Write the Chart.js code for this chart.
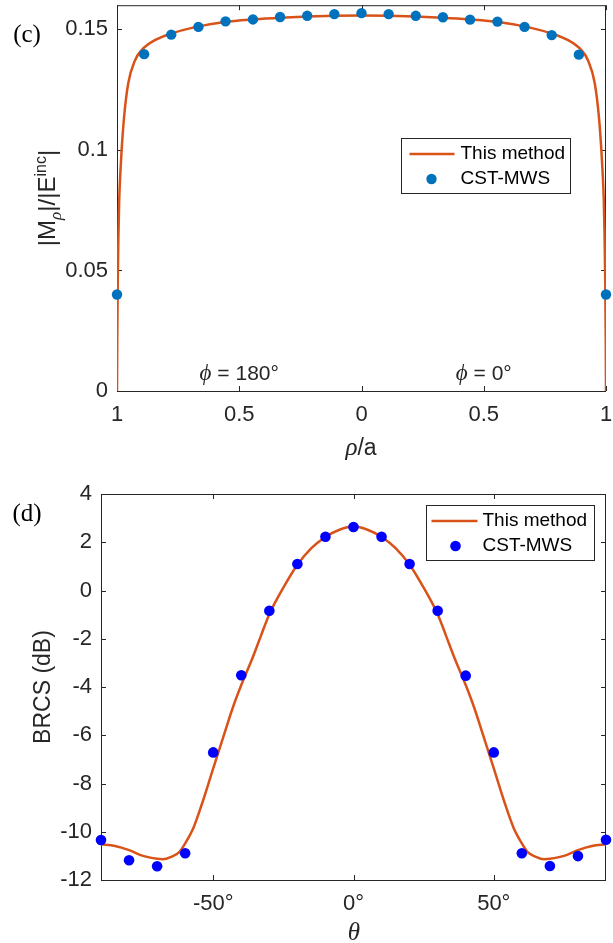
<!DOCTYPE html>
<html>
<head>
<meta charset="utf-8">
<script src="https://cdn.jsdelivr.net/npm/chart.js@4.4.0/dist/chart.umd.min.js"></script>
<style>
  body { margin: 0; background: #fff; width: 613px; height: 943px; position: relative; overflow: hidden;
         font-family: "Liberation Sans", Arial, sans-serif; color: #262626; }
  canvas { position: absolute; left: 0; }
  #chartC { top: 0; }
  #chartD { top: 470px; }
  .lbl { position: absolute; white-space: nowrap; transform: translate(-50%, -50%); font-size: 23px; line-height: 1; }
  .rot { transform: translate(-50%, -50%) rotate(-90deg); }
  .panel { font-family: "Liberation Serif", "Times New Roman", serif; font-size: 25px; color: #000; }
  .sym { font-family: "Liberation Serif", "Times New Roman", serif; font-style: italic; font-size: 25px; }
  sub, sup { font-size: 16px; line-height: 0; }
</style>
</head>
<body>
<canvas id="chartC" width="613" height="470"></canvas>
<canvas id="chartD" width="613" height="473"></canvas>

<div class="lbl panel" style="left:27px; top:33px;">(c)</div>
<div class="lbl rot" style="left:47px; top:198px; font-size:24px;">|M<sub class="sym" style="font-size:17px;">ρ</sub>|/|E<sup>inc</sup>|</div>
<div class="lbl" style="left:361px; top:446px;"><span class="sym">ρ</span>/a</div>

<div class="lbl panel" style="left:27px; top:512px;">(d)</div>
<div class="lbl rot" style="left:42px; top:687px;">BRCS (dB)</div>
<div class="lbl" style="left:354px; top:931px;"><span class="sym">θ</span></div>

<script>
// (c) |M_rho|/|E_inc| across the aperture: phi = 180° side on the left, phi = 0° side on the right
const rhoLine = [-1, -0.999, -0.997, -0.994, -0.991, -0.986, -0.981, -0.971, -0.954, -0.926, -0.899,
                 -0.845, -0.776, -0.689, -0.56, -0.44, -0.33, -0.22, -0.11, 0,
                 0.11, 0.22, 0.33, 0.44, 0.56, 0.689, 0.776, 0.845, 0.899, 0.926,
                 0.954, 0.971, 0.981, 0.986, 0.991, 0.994, 0.997, 0.999, 1];
const mLine = [0, 0.02, 0.045, 0.065, 0.079, 0.091, 0.1, 0.1137, 0.1276, 0.1372, 0.1414,
               0.1455, 0.1483, 0.1507, 0.153, 0.1541, 0.1548, 0.1553, 0.1556, 0.1557,
               0.1556, 0.1553, 0.1548, 0.1541, 0.153, 0.1507, 0.1483, 0.1455, 0.1414, 0.1372,
               0.1276, 0.1137, 0.1, 0.091, 0.079, 0.065, 0.045, 0.02, 0];
const rhoCst = [-1, -0.889, -0.778, -0.667, -0.556, -0.444, -0.333, -0.222, -0.111, 0,
                0.111, 0.222, 0.333, 0.444, 0.556, 0.667, 0.778, 0.889, 1];
const mCst = [0.04, 0.1397, 0.1478, 0.151, 0.1533, 0.1541, 0.1551, 0.1556, 0.1563, 0.1567,
              0.1563, 0.1556, 0.155, 0.154, 0.1532, 0.151, 0.1476, 0.1395, 0.04];
const rhoTicks = [-1, -0.5, 0, 0.5, 1];
const rhoTickLabels = ['1', '0.5', '0', '0.5', '1'];
const mTicks = [0, 0.05, 0.1, 0.15];
const mTickLabels = ['0', '0.05', '0.1', '0.15'];

// (d) bistatic RCS versus theta
const thetaLine = [-90, -85, -80, -75, -70, -68, -65, -62, -60, -57, -54, -50, -46, -43, -40, -36, -33, -30,
                   -25, -20, -15, -10, -5, 0, 5, 10, 15, 20, 25,
                   30, 33, 36, 40, 43, 46, 50, 54, 57, 60, 62, 65, 68, 70, 75, 80, 85, 90];
const brcsLine = [-10.52, -10.59, -10.76, -11.0, -11.12, -11.14, -11.04, -10.83, -10.48, -9.82, -8.84, -7.37,
                  -5.92, -4.85, -3.92, -2.8, -1.88, -0.98,
                  0.12, 1.07, 1.76, 2.22, 2.52, 2.65, 2.52, 2.22, 1.76, 1.07, 0.12,
                  -0.98, -1.88, -2.8, -3.92, -4.85, -5.92, -7.37, -8.84, -9.82, -10.48, -10.83, -11.04,
                  -11.14, -11.12, -11.0, -10.76, -10.59, -10.52];
const thetaCst = [-90, -80, -70, -60, -50, -40, -30, -20, -10, 0, 10, 20, 30, 40, 50, 60, 70, 80, 90];
const brcsCst = [-10.34, -11.18, -11.43, -10.89, -6.71, -3.51, -0.84, 1.1, 2.23, 2.63,
                 2.23, 1.1, -0.84, -3.53, -6.71, -10.89, -11.42, -11.01, -10.33];
const thetaTicks = [-50, 0, 50];
const thetaTickLabels = ['-50°', '0°', '50°'];
const brcsTicks = [-12, -10, -8, -6, -4, -2, 0, 2, 4];
const brcsTickLabels = ['-12', '-10', '-8', '-6', '-4', '-2', '0', '2', '4'];

const seriesNames = ['This method', 'CST-MWS'];

const LINE_COLOR = '#D95319';
const AXIS_COLOR = '#262626';
const SANS = "'Liberation Sans', Arial, sans-serif";
const SERIF = "'Liberation Serif', 'Times New Roman', serif";

Chart.defaults.font.family = SANS;
Chart.defaults.color = AXIS_COLOR;

const zip = (xs, ys) => xs.map((x, i) => ({ x: x, y: ys[i] }));

// box, inward ticks, text notes and a small boxed legend, drawn the way MATLAB does it
const matlabAxes = {
  id: 'matlabAxes',
  beforeDatasetsDraw(chart, args, opts) {
    const { ctx, chartArea: a, scales: { x, y } } = chart;
    ctx.save();
    ctx.strokeStyle = AXIS_COLOR;
    ctx.lineWidth = 1;
    ctx.beginPath();
    x.ticks.forEach(t => {
      const px = Math.round(x.getPixelForValue(t.value)) + 0.5;
      ctx.moveTo(px, a.bottom); ctx.lineTo(px, a.bottom - 5);
      ctx.moveTo(px, a.top); ctx.lineTo(px, a.top + 5);
    });
    y.ticks.forEach(t => {
      const py = Math.round(y.getPixelForValue(t.value)) + 0.5;
      ctx.moveTo(a.left, py); ctx.lineTo(a.left + 5, py);
      ctx.moveTo(a.right, py); ctx.lineTo(a.right - 5, py);
    });
    ctx.stroke();
    ctx.strokeRect(a.left + 0.5, a.top + 0.5, a.right - a.left - 1, a.bottom - a.top);

    // annotations placed in data coordinates
    (opts.notes || []).forEach(n => {
      const cx = x.getPixelForValue(n.x), cy = y.getPixelForValue(n.y);
      ctx.font = 'italic 23px ' + SERIF;
      const w1 = ctx.measureText(n.sym).width;
      ctx.font = '21px ' + SANS;
      const w2 = ctx.measureText(n.text).width;
      const left = cx - (w1 + w2) / 2;
      ctx.fillStyle = AXIS_COLOR;
      ctx.textBaseline = 'middle';
      ctx.textAlign = 'left';
      ctx.font = 'italic 23px ' + SERIF;
      ctx.fillText(n.sym, left, cy);
      ctx.font = '21px ' + SANS;
      ctx.fillText(n.text, left + w1, cy);
    });
    ctx.restore();
  },
  afterDatasetsDraw(chart, args, opts) {
    const lg = opts.legend;
    if (!lg) return;
    const { ctx, chartArea: a } = chart;
    const line = chart.data.datasets[1], dots = chart.data.datasets[0];
    const left = Math.round(a.right - lg.right - lg.width) + 0.5;
    const top = Math.round(a.top + lg.top) + 0.5;
    ctx.save();
    ctx.fillStyle = '#fff';
    ctx.fillRect(left, top, lg.width, lg.height);
    ctx.strokeStyle = AXIS_COLOR;
    ctx.lineWidth = 1;
    ctx.strokeRect(left, top, lg.width, lg.height);

    const r1 = top + 15.5, r2 = top + 40.5;
    ctx.strokeStyle = line.borderColor;
    ctx.lineWidth = line.borderWidth;
    ctx.beginPath();
    ctx.moveTo(left + lg.sample[0], r1);
    ctx.lineTo(left + lg.sample[1], r1);
    ctx.stroke();
    ctx.fillStyle = dots.backgroundColor;
    ctx.beginPath();
    ctx.arc(left + lg.dot, r2, dots.pointRadius, 0, Math.PI * 2);
    ctx.fill();

    ctx.fillStyle = '#000';
    ctx.font = '19px ' + SANS;
    ctx.textBaseline = 'middle';
    ctx.textAlign = 'left';
    ctx.fillText(line.label, left + lg.text, r1);
    ctx.fillText(dots.label, left + lg.text, r2);
    ctx.restore();
  }
};

function makeChart(id, cfg) {
  const canvas = document.getElementById(id);
  return new Chart(canvas.getContext('2d'), {
    type: 'line',
    data: {
      datasets: [
        {
          label: seriesNames[1],
          data: zip(cfg.cstX, cfg.cstY),
          showLine: false,
          pointRadius: cfg.dotRadius,
          pointHoverRadius: cfg.dotRadius,
          pointBackgroundColor: cfg.dotColor,
          pointBorderWidth: 0,
          backgroundColor: cfg.dotColor,
          clip: false
        },
        {
          label: seriesNames[0],
          data: zip(cfg.lineX, cfg.lineY),
          borderColor: LINE_COLOR,
          borderWidth: 2.5,
          pointRadius: 0,
          fill: false,
          cubicInterpolationMode: 'monotone'
        }
      ]
    },
    options: {
      responsive: false,
      animation: false,
      devicePixelRatio: 1,
      layout: { padding: { top: cfg.padTop, right: 7, bottom: 0, left: 0 } },
      plugins: {
        legend: { display: false },
        tooltip: { enabled: false },
        matlabAxes: { legend: cfg.legend, notes: cfg.notes }
      },
      scales: {
        x: {
          type: 'linear',
          min: cfg.xMin, max: cfg.xMax,
          grid: { display: false, drawTicks: false },
          border: { display: false },
          afterBuildTicks: s => { s.ticks = cfg.xTicks.map(v => ({ value: v })); },
          afterFit: s => { s.height = cfg.xHeight; s.paddingLeft = 0; s.paddingRight = 0; },
          ticks: {
            autoSkip: false, maxRotation: 0, padding: 11,
            font: { size: 22 }, color: AXIS_COLOR,
            callback: (v, i) => cfg.xLabels[i]
          }
        },
        y: {
          type: 'linear',
          min: cfg.yMin, max: cfg.yMax,
          grid: { display: false, drawTicks: false },
          border: { display: false },
          afterBuildTicks: s => { s.ticks = cfg.yTicks.map(v => ({ value: v })); },
          afterFit: s => { s.width = cfg.yWidth; s.paddingTop = 0; s.paddingBottom = 0; },
          ticks: {
            autoSkip: false, padding: 9,
            font: { size: 22 }, color: AXIS_COLOR,
            callback: (v, i) => cfg.yLabels[i]
          }
        }
      }
    },
    plugins: [matlabAxes]
  });
}

makeChart('chartC', {
  cstX: rhoCst, cstY: mCst, lineX: rhoLine, lineY: mLine,
  dotColor: '#0072BD', dotRadius: 5.2,
  xMin: -1, xMax: 1, yMin: 0, yMax: 0.16,
  xTicks: rhoTicks, xLabels: rhoTickLabels, yTicks: mTicks, yLabels: mTickLabels,
  padTop: 5, xHeight: 79, yWidth: 117,
  legend: { right: 36, top: 133, width: 169, height: 55, sample: [8, 53], dot: 30, text: 59 },
  notes: [
    { x: -0.5, y: 0.007, sym: 'ϕ', text: ' = 180°' },
    { x: 0.5, y: 0.007, sym: 'ϕ', text: ' = 0°' }
  ]
});

makeChart('chartD', {
  cstX: thetaCst, cstY: brcsCst, lineX: thetaLine, lineY: brcsLine,
  dotColor: '#0000FF', dotRadius: 5.3,
  xMin: -90, xMax: 90, yMin: -12, yMax: 4,
  xTicks: thetaTicks, xLabels: thetaTickLabels, yTicks: brcsTicks, yLabels: brcsTickLabels,
  padTop: 24, xHeight: 63, yWidth: 101,
  legend: { right: 12, top: 11, width: 168, height: 55, sample: [5, 51], dot: 29, text: 56 },
  notes: []
});
</script>
</body>
</html>
